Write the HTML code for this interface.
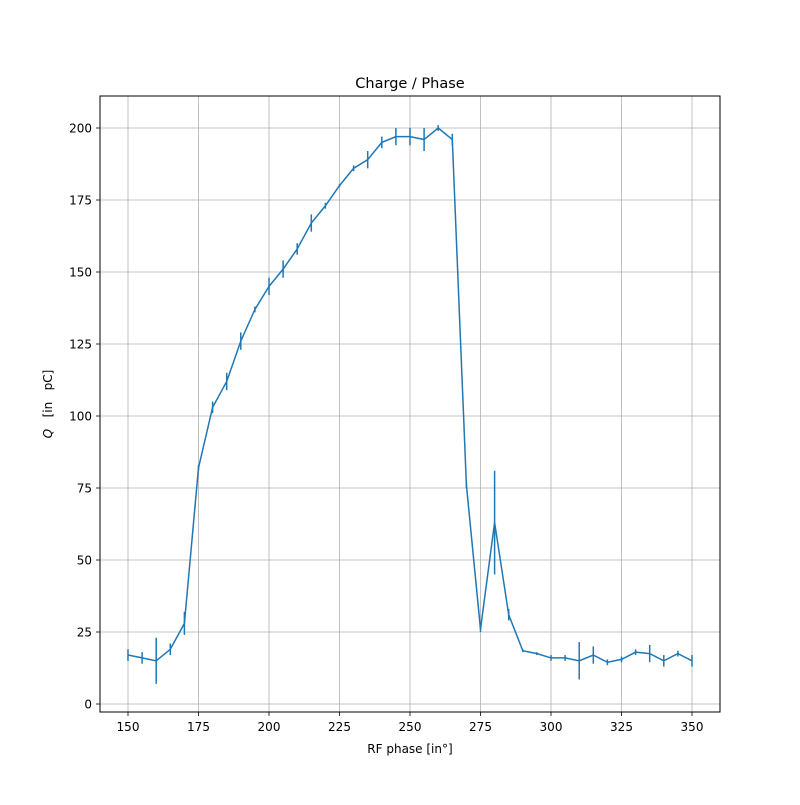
<!DOCTYPE html>
<html><head><meta charset="utf-8"><style>body{margin:0;background:#fff}svg text{font-family:"DejaVu Sans","Liberation Sans",sans-serif;fill:#000}</style></head>
<body>
<svg id="chart" width="800" height="800" xmlns="http://www.w3.org/2000/svg">
<rect width="800" height="800" fill="#fff"/>
<g id="grid"></g><g id="series"></g>
<rect x="100" y="96" width="620" height="616" fill="none" stroke="#000" stroke-width="1"/>
<g id="axes"></g>
<text x="410" y="88" font-size="14.5" text-anchor="middle">Charge / Phase</text>
<text x="410" y="753" font-size="12" text-anchor="middle">RF phase [in°]</text>
<text transform="translate(52,404) rotate(-90)" font-size="12" text-anchor="middle"><tspan font-style="italic">Q</tspan>&#160;&#160;&#160;[in&#160;&#160;&#160;pC]</text>
</svg>
<script>
const phases=[150,155,160,165,170,175,180,185,190,195,200,205,210,215,220,225,230,235,240,245,250,255,260,265,270,275,280,285,290,295,300,305,310,315,320,325,330,335,340,345,350];
const charge=[17,16,15,19,28,82,103,112,126,137,145,151,158,167,173,180,186,189,195,197,197,196,200,196,76,26,63,31,18.5,17.5,16,16,15,17,14.5,15.5,18,17.5,15,17.5,15];
const errors=[2,2,8,2,4,1,2,3,3,1,3,3,2,3,1,0.5,1,3,2,3,3,4,1,2,1,1,18,2,0.5,0.5,1,1,6.5,3,1,1,1,3,2,1,2];
const xTicks=[150,175,200,225,250,275,300,325,350];
const yTicks=[0,25,50,75,100,125,150,175,200];
const X=v=>128+(v-150)*2.82, Y=v=>704-v*2.88;
const NS="http://www.w3.org/2000/svg";
function mk(p,t,a){const e=document.createElementNS(NS,t);for(const k in a)e.setAttribute(k,a[k]);p.appendChild(e);return e;}
const grid=document.getElementById('grid'),axes=document.getElementById('axes'),ser=document.getElementById('series');
xTicks.forEach(t=>{const x=X(t);
 const g=mk(grid,'line',{x1:x,x2:x,y1:96,y2:712,stroke:'#b0b0b0','stroke-width':0.8});
 
 
 mk(axes,'line',{x1:x,x2:x,y1:712,y2:716,stroke:'#000','stroke-width':0.8});
 const l=mk(axes,'text',{x:x,y:731,'font-size':12,'text-anchor':'middle'});l.textContent=t;
 
 });
yTicks.forEach(t=>{const y=Y(t);
 const g=mk(grid,'line',{x1:100,x2:720,y1:y,y2:y,stroke:'#b0b0b0','stroke-width':0.8});
 
 
 mk(axes,'line',{x1:96,x2:100,y1:y,y2:y,stroke:'#000','stroke-width':0.8});
 const l=mk(axes,'text',{x:92,y:y+4.5,'font-size':12,'text-anchor':'end'});l.textContent=t;
 
 });
const line=mk(ser,'polyline',{points:phases.map((p,i)=>X(p)+','+Y(charge[i])).join(' '),fill:'none',stroke:'#1f77b4','stroke-width':1.5});


phases.forEach((p,i)=>{const e=mk(ser,'line',{x1:X(p),x2:X(p),y1:Y(charge[i]-errors[i]),y2:Y(charge[i]+errors[i]),stroke:'#1f77b4','stroke-width':1.5});
 
 });
</script>
</body></html>
